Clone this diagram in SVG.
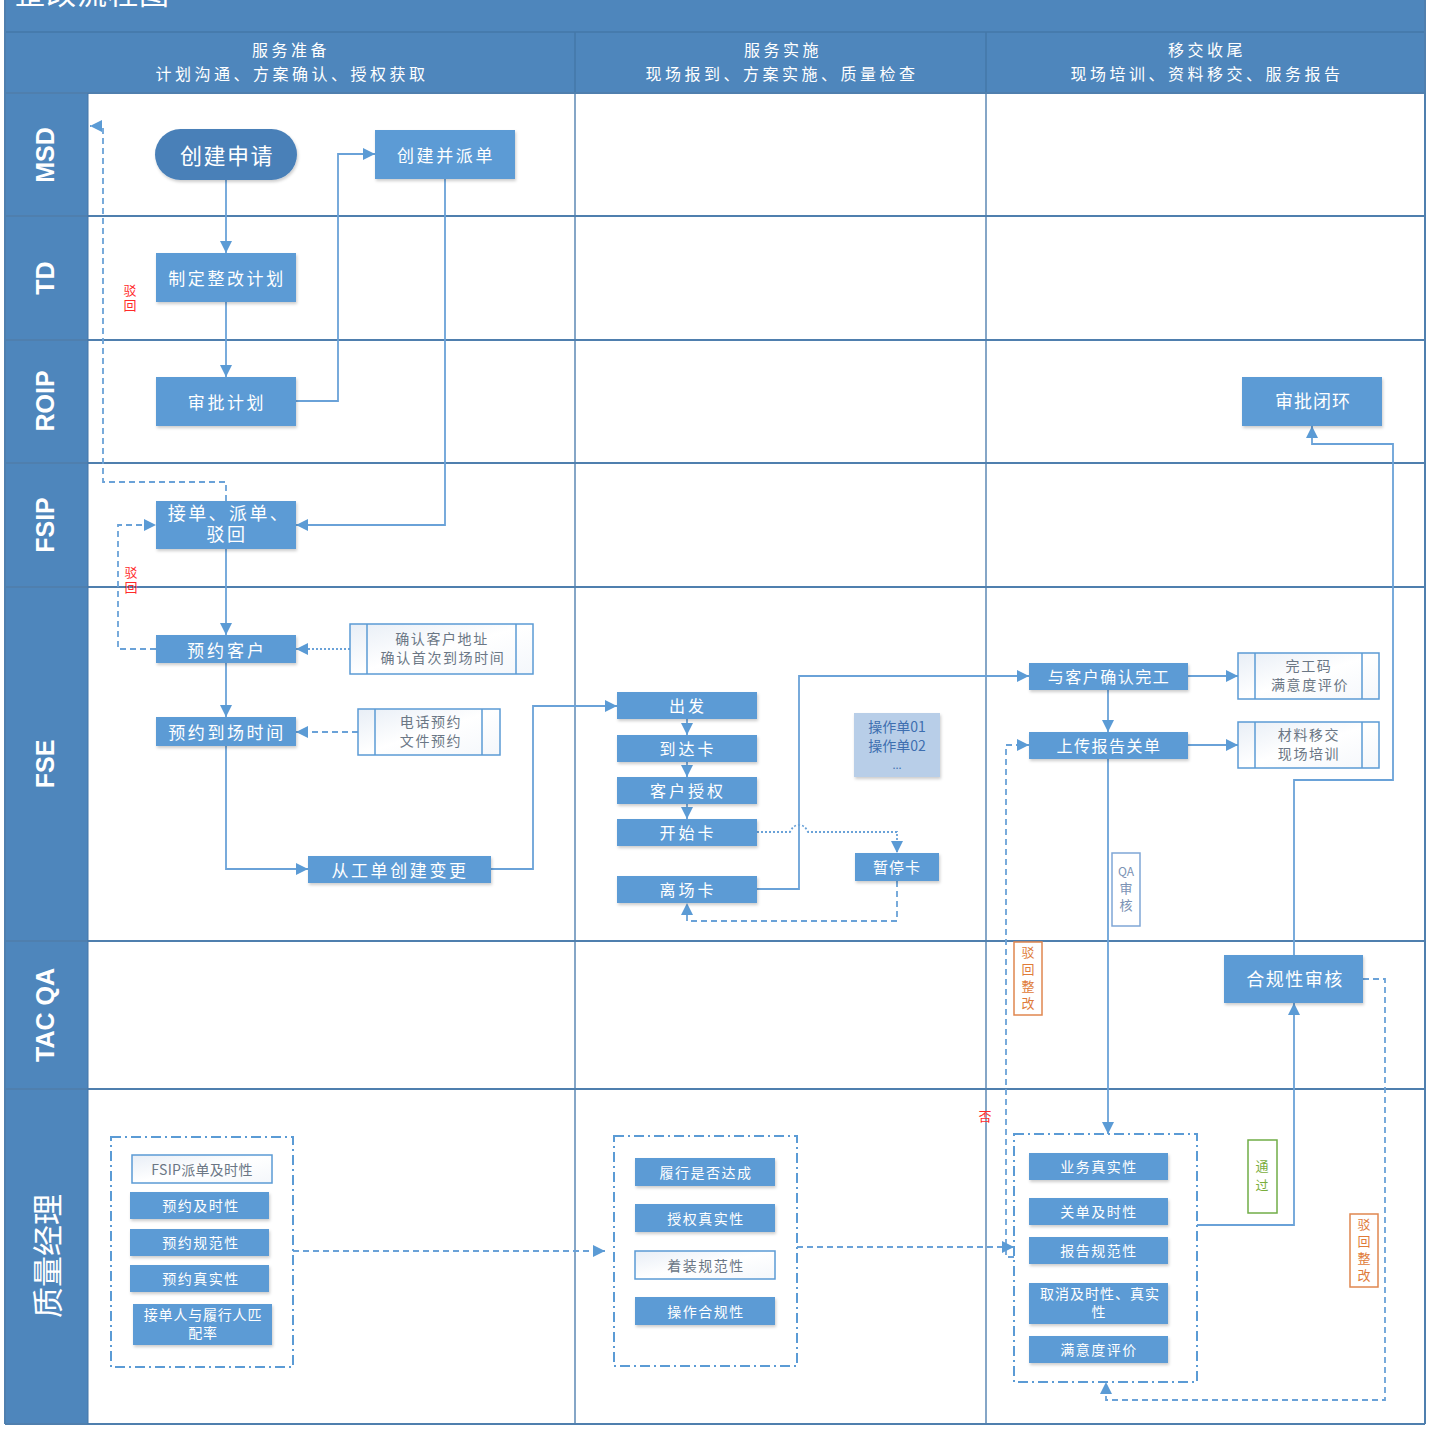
<svg xmlns="http://www.w3.org/2000/svg" width="1431" height="1431" viewBox="0 0 1431 1431">
<defs>
<style>
.band{fill:#4E86BC}
.hdr{font-family:"Noto Sans CJK SC","Liberation Sans",sans-serif;font-size:16px;fill:#fff;text-anchor:middle;letter-spacing:3.5px}
.lane{font-family:"Liberation Sans","Noto Sans CJK SC",sans-serif;font-weight:bold;font-size:25px;fill:#fff;text-anchor:middle;dominant-baseline:central}
.grid{stroke:#4F7FAE;stroke-width:2;fill:none}
.colg{stroke:#5C88B4;stroke-width:1.5;fill:none}
.node{fill:#5B9BD5;filter:url(#sh)}
.pill{fill:#4A80B8;filter:url(#sh)}
.nt{font-family:"Noto Sans CJK SC","Liberation Sans",sans-serif;fill:#fff;text-anchor:middle;dominant-baseline:central;font-size:17px;letter-spacing:2.6px}
.sub{fill:url(#lg);stroke:#5B9BD5;stroke-width:1.5}
.bar{stroke:#5B9BD5;stroke-width:1.5;fill:none}
.st{font-family:"Noto Sans CJK SC","Liberation Sans",sans-serif;fill:#6B7785;text-anchor:middle;font-size:14px;letter-spacing:1.6px}
.qm{font-family:"Noto Sans CJK SC","Liberation Sans",sans-serif;fill:#fff;text-anchor:middle;dominant-baseline:central;font-size:14px;letter-spacing:1.5px}
.grp{fill:none;stroke:#5B9BD5;stroke-width:2;stroke-dasharray:10 4 2 4}
.c{fill:none;stroke:#6AA2D8;stroke-width:1.8}
.cd{fill:none;stroke:#6AA2D8;stroke-width:1.8;stroke-dasharray:6 4}
.co{fill:none;stroke:#6AA2D8;stroke-width:1.8;stroke-dasharray:2 2}
.lab{font-family:"Noto Sans CJK SC","Liberation Sans",sans-serif;font-size:13px;text-anchor:middle}
.vlab{font-family:"Noto Sans CJK SC","Liberation Sans",sans-serif;font-size:13px;writing-mode:vertical-rl;text-orientation:upright;letter-spacing:2px}
</style>
<filter id="sh" x="-10%" y="-20%" width="125%" height="150%">
<feDropShadow dx="1" dy="2" stdDeviation="1.5" flood-color="#000" flood-opacity="0.2"/>
</filter>
<linearGradient id="lg" x1="0" y1="0" x2="1" y2="1">
<stop offset="0" stop-color="#E8EEF6"/>
<stop offset="0.5" stop-color="#FFFFFF"/>
<stop offset="1" stop-color="#F4F7FB"/>
</linearGradient>
<marker id="ar" viewBox="0 0 10 10" refX="10" refY="5" markerWidth="12" markerHeight="12" markerUnits="userSpaceOnUse" orient="auto">
<path d="M0,0 L10,5 L0,10 z" fill="#5B9BD5"/>
</marker>
</defs>

<rect x="0" y="0" width="1431" height="1431" fill="#fff"/>

<g id="frame">
<rect class="band" x="5" y="0" width="1420" height="93"/>
<text x="15" y="4" font-family="Noto Sans CJK SC, sans-serif" font-size="30" letter-spacing="1" fill="#fff">整改流程图</text>
<line x1="5" y1="32" x2="1425" y2="32" stroke="#4577A8" stroke-width="1.5"/>
<line x1="575" y1="32" x2="575" y2="93" stroke="#4577A8" stroke-width="1.5"/>
<line x1="986" y1="32" x2="986" y2="93" stroke="#4577A8" stroke-width="1.5"/>
<text class="hdr" x="291" y="56">服务准备</text>
<text class="hdr" x="292" y="80">计划沟通、方案确认、授权获取</text>
<text class="hdr" x="783" y="56">服务实施</text>
<text class="hdr" x="782" y="80">现场报到、方案实施、质量检查</text>
<text class="hdr" x="1207" y="56">移交收尾</text>
<text class="hdr" x="1207" y="80">现场培训、资料移交、服务报告</text>
<rect class="band" x="5" y="93" width="83" height="1331"/>
<line class="colg" x1="575" y1="93" x2="575" y2="1424"/>
<line class="colg" x1="986" y1="93" x2="986" y2="1424"/>
<line class="grid" x1="5" y1="93" x2="1425" y2="93"/>
<line class="grid" x1="5" y1="216" x2="1425" y2="216"/>
<line class="grid" x1="5" y1="340" x2="1425" y2="340"/>
<line class="grid" x1="5" y1="463" x2="1425" y2="463"/>
<line class="grid" x1="5" y1="587" x2="1425" y2="587"/>
<line class="grid" x1="5" y1="941" x2="1425" y2="941"/>
<line class="grid" x1="5" y1="1089" x2="1425" y2="1089"/>
<line class="grid" x1="5" y1="1424" x2="1425" y2="1424"/>
<line class="grid" x1="1425" y1="0" x2="1425" y2="1424"/>
<line class="grid" x1="5" y1="0" x2="5" y2="1424"/>
<line x1="88" y1="93" x2="88" y2="1424" stroke="#4577A8" stroke-width="1"/>
<text class="lane" transform="translate(45,155) rotate(-90)">MSD</text>
<text class="lane" transform="translate(45,278) rotate(-90)">TD</text>
<text class="lane" transform="translate(45,401) rotate(-90)">ROIP</text>
<text class="lane" transform="translate(45,525) rotate(-90)">FSIP</text>
<text class="lane" transform="translate(45,764) rotate(-90)">FSE</text>
<text class="lane" transform="translate(45,1015) rotate(-90)">TAC QA</text>
<text class="lane" transform="translate(45,1256) rotate(-90)" style="font-family:'Noto Sans CJK SC',sans-serif;font-size:31px;font-weight:normal">质量经理</text>
</g>

<g id="connectors">
<path class="c" d="M226,180 V253" marker-end="url(#ar)"/>
<path class="c" d="M226,302 V377" marker-end="url(#ar)"/>
<path class="c" d="M296,401 H338 V154 H375" marker-end="url(#ar)"/>
<path class="c" d="M445,179 V525 H296" marker-end="url(#ar)"/>
<path class="c" d="M226,549 V635" marker-end="url(#ar)"/>
<path class="c" d="M226,663 V717" marker-end="url(#ar)"/>
<path class="c" d="M226,746 V869 H308" marker-end="url(#ar)"/>
<path class="c" d="M491,869 H533 V706 H617" marker-end="url(#ar)"/>
<path class="c" d="M687,719 V735" marker-end="url(#ar)"/>
<path class="c" d="M687,762 V777" marker-end="url(#ar)"/>
<path class="c" d="M687,804 V819" marker-end="url(#ar)"/>
<path class="co" d="M757,832 H790 Q793,825 799,825 Q805,825 808,832 H897 V853" marker-end="url(#ar)"/>
<path class="cd" d="M897,881 V921 H687 V903" marker-end="url(#ar)"/>
<path class="c" d="M757,889 H799 V676 H1029" marker-end="url(#ar)"/>
<path class="c" d="M1108,690 V732" marker-end="url(#ar)"/>
<path class="c" d="M1188,676 H1238" marker-end="url(#ar)"/>
<path class="c" d="M1188,745 H1238" marker-end="url(#ar)"/>
<path class="c" d="M1108,759 V1134" marker-end="url(#ar)"/>
<path class="c" d="M1197,1225 H1294 V1003" marker-end="url(#ar)"/>
<path class="c" d="M1294,955 V780 H1393 V444 H1312 V426" marker-end="url(#ar)"/>
<path class="cd" d="M1363,979 H1385 V1400 H1106 V1382" marker-end="url(#ar)"/>
<path class="cd" d="M1014,1257 H1006 V745 H1029" marker-end="url(#ar)"/>
<path class="cd" d="M293,1251 H605" marker-end="url(#ar)"/>
<path class="cd" d="M797,1247 H1014" marker-end="url(#ar)"/>
<path class="cd" d="M156,649 H118 V525 H156" marker-end="url(#ar)"/>
<path class="cd" d="M226,501 V482 H103 V126 H90" marker-end="url(#ar)"/>
<path class="co" d="M350,649 H296" marker-end="url(#ar)"/>
<path class="cd" d="M358,732 H296" marker-end="url(#ar)"/>
</g>

<g id="n-create-request"><rect class="pill" x="155" y="129" width="142" height="51" rx="25.5"/><text class="nt" x="227" y="154" style="font-size:22px;letter-spacing:1.5px">创建申请</text></g>
<g id="n-create-dispatch"><rect class="node" x="375" y="130" width="140" height="49"/><text class="nt" x="446" y="154">创建并派单</text></g>
<g id="n-plan"><rect class="node" x="156" y="253" width="140" height="49"/><text class="nt" x="227" y="277">制定整改计划</text></g>
<g id="n-approve-plan"><rect class="node" x="156" y="377" width="140" height="49"/><text class="nt" x="227" y="401">审批计划</text></g>
<g id="n-accept"><rect class="node" x="156" y="501" width="140" height="48"/><text class="nt" x="227" y="0" style="font-size:18px;letter-spacing:2.4px;dominant-baseline:auto"><tspan x="229" y="520">接单、派单、</tspan><tspan x="227" y="541">驳回</tspan></text></g>
<g id="n-book-customer"><rect class="node" x="156" y="635" width="140" height="28"/><text class="nt" x="227" y="649" style="letter-spacing:3px">预约客户</text></g>
<g id="n-book-time"><rect class="node" x="156" y="717" width="140" height="29"/><text class="nt" x="227" y="731">预约到场时间</text></g>
<g id="n-change"><rect class="node" x="308" y="856" width="183" height="27"/><text class="nt" x="400" y="869">从工单创建变更</text></g>
<g id="n-confirm-addr"><rect class="sub" x="350" y="624" width="183" height="50"/><line class="bar" x1="367" y1="624" x2="367" y2="674"/><line class="bar" x1="516" y1="624" x2="516" y2="674"/><text class="st" x="442" y="644">确认客户地址</text><text class="st" x="443" y="663">确认首次到场时间</text></g>
<g id="n-phone"><rect class="sub" x="358" y="709" width="142" height="46"/><line class="bar" x1="375" y1="709" x2="375" y2="755"/><line class="bar" x1="482" y1="709" x2="482" y2="755"/><text class="st" x="431" y="727">电话预约</text><text class="st" x="431" y="746">文件预约</text></g>

<g id="n-depart"><rect class="node" x="617" y="692" width="140" height="27"/><text class="nt" x="688" y="705" style="font-size:16px;letter-spacing:3px">出发</text></g>
<g id="n-arrive"><rect class="node" x="617" y="735" width="140" height="27"/><text class="nt" x="688" y="748" style="font-size:16px;letter-spacing:3px">到达卡</text></g>
<g id="n-auth"><rect class="node" x="617" y="777" width="140" height="27"/><text class="nt" x="688" y="790" style="font-size:16px;letter-spacing:3px">客户授权</text></g>
<g id="n-start"><rect class="node" x="617" y="819" width="140" height="27"/><text class="nt" x="688" y="832" style="font-size:16px;letter-spacing:3px">开始卡</text></g>
<g id="n-leave"><rect class="node" x="617" y="876" width="140" height="27"/><text class="nt" x="688" y="889" style="font-size:16px;letter-spacing:3px">离场卡</text></g>
<g id="n-ops"><rect x="854" y="713" width="86" height="64" fill="#B8CEE8" filter="url(#sh)"/><text class="lab" x="897" y="0" fill="#3E6FB0" style="font-size:14px"><tspan x="897" y="732">操作单01</tspan><tspan x="897" y="751">操作单02</tspan><tspan x="897" y="769" style="font-size:11px">...</tspan></text></g>
<g id="n-pause"><rect class="node" x="855" y="853" width="84" height="28"/><text class="nt" x="897" y="866" style="font-size:15px;letter-spacing:1px">暂停卡</text></g>

<g id="n-confirm-done"><rect class="node" x="1029" y="663" width="159" height="27"/><text class="nt" x="1109" y="676" style="font-size:16px;letter-spacing:1.5px">与客户确认完工</text></g>
<g id="n-upload"><rect class="node" x="1029" y="732" width="159" height="27"/><text class="nt" x="1109" y="745" style="font-size:16px;letter-spacing:1.5px">上传报告关单</text></g>
<g id="n-code"><rect class="sub" x="1238" y="653" width="141" height="46"/><line class="bar" x1="1255" y1="653" x2="1255" y2="699"/><line class="bar" x1="1362" y1="653" x2="1362" y2="699"/><text class="st" x="1309" y="671">完工码</text><text class="st" x="1310" y="690">满意度评价</text></g>
<g id="n-material"><rect class="sub" x="1238" y="722" width="141" height="46"/><line class="bar" x1="1255" y1="722" x2="1255" y2="768"/><line class="bar" x1="1362" y1="722" x2="1362" y2="768"/><text class="st" x="1309" y="740">材料移交</text><text class="st" x="1309" y="759">现场培训</text></g>
<g id="n-close"><rect class="node" x="1242" y="377" width="140" height="49"/><text class="nt" x="1313" y="400" style="font-size:18px;letter-spacing:1px">审批闭环</text></g>
<g id="n-compliance"><rect class="node" x="1224" y="955" width="139" height="48"/><text class="nt" x="1295" y="978" style="font-size:18px;letter-spacing:1.5px">合规性审核</text></g>

<g id="labels">
<text class="vlab" x="130" y="284" fill="#FF2A2A">驳回</text>
<text class="vlab" x="131" y="566" fill="#FF2A2A">驳回</text>
<text class="lab" x="985" y="1121" fill="#FF2A2A">否</text>
<rect x="1112" y="853" width="28" height="73" fill="#fff" stroke="#7FA6D6" stroke-width="1.5"/>
<text class="lab" x="1126" y="0" fill="#7C93B5"><tspan x="1126" y="876" style="font-size:12px">QA</tspan><tspan x="1126" y="893">审</tspan><tspan x="1126" y="910">核</tspan></text>
<rect x="1014" y="942" width="28" height="73" fill="#fff" stroke="#E0874F" stroke-width="1.5"/>
<text class="lab" x="1028" y="0" fill="#E07B39"><tspan x="1028" y="957">驳</tspan><tspan x="1028" y="974">回</tspan><tspan x="1028" y="991">整</tspan><tspan x="1028" y="1008">改</tspan></text>
<rect x="1248" y="1140" width="29" height="73" fill="#fff" stroke="#70AD47" stroke-width="1.5"/>
<text class="lab" x="1262" y="0" fill="#7AAE3C"><tspan x="1262" y="1171">通</tspan><tspan x="1262" y="1190">过</tspan></text>
<rect x="1350" y="1214" width="28" height="73" fill="#fff" stroke="#E0874F" stroke-width="1.5"/>
<text class="lab" x="1364" y="0" fill="#E07B39"><tspan x="1364" y="1229">驳</tspan><tspan x="1364" y="1246">回</tspan><tspan x="1364" y="1263">整</tspan><tspan x="1364" y="1280">改</tspan></text>
</g>

<g id="g-qm1">
<rect class="grp" x="111" y="1137" width="182" height="230"/>
<rect x="132" y="1155" width="140" height="28" fill="url(#lg)" stroke="#5B9BD5" stroke-width="1.5"/><text class="qm" x="202" y="1169" style="fill:#6B7785;font-size:14px;letter-spacing:0.3px">FSIP派单及时性</text>
<rect class="node" x="130" y="1192" width="139" height="27"/><text class="qm" x="201" y="1205">预约及时性</text>
<rect class="node" x="130" y="1229" width="139" height="27"/><text class="qm" x="201" y="1242">预约规范性</text>
<rect class="node" x="130" y="1265" width="139" height="27"/><text class="qm" x="201" y="1278">预约真实性</text>
<rect class="node" x="133" y="1304" width="139" height="41"/><text class="qm" x="202" y="0" style="letter-spacing:0.8px;dominant-baseline:auto"><tspan x="203" y="1320">接单人与履行人匹</tspan><tspan x="203" y="1338">配率</tspan></text>
</g>
<g id="g-qm2">
<rect class="grp" x="614" y="1136" width="183" height="230"/>
<rect class="node" x="635" y="1158" width="140" height="28"/><text class="qm" x="706" y="1172">履行是否达成</text>
<rect class="node" x="635" y="1204" width="140" height="28"/><text class="qm" x="706" y="1218">授权真实性</text>
<rect x="635" y="1251" width="140" height="28" fill="url(#lg)" stroke="#5B9BD5" stroke-width="1.5"/><text class="qm" x="706" y="1265" style="fill:#6B7785">着装规范性</text>
<rect class="node" x="635" y="1297" width="140" height="28"/><text class="qm" x="706" y="1311">操作合规性</text>
</g>
<g id="g-qm3">
<rect class="grp" x="1014" y="1134" width="183" height="248"/>
<rect class="node" x="1029" y="1153" width="139" height="27"/><text class="qm" x="1099" y="1166">业务真实性</text>
<rect class="node" x="1029" y="1198" width="139" height="27"/><text class="qm" x="1099" y="1211">关单及时性</text>
<rect class="node" x="1029" y="1237" width="139" height="27"/><text class="qm" x="1099" y="1250">报告规范性</text>
<rect class="node" x="1029" y="1283" width="139" height="41"/><text class="qm" x="1099" y="0" style="letter-spacing:1px;dominant-baseline:auto"><tspan x="1100" y="1299">取消及时性、真实</tspan><tspan x="1099" y="1317">性</tspan></text>
<rect class="node" x="1029" y="1336" width="139" height="27"/><text class="qm" x="1099" y="1349">满意度评价</text>
</g>
</svg>
